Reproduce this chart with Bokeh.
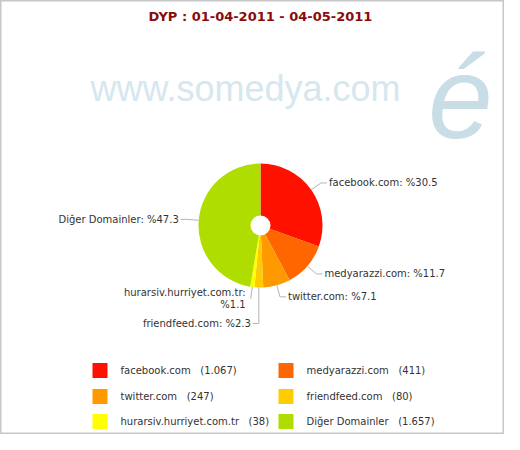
import numpy as np
from bokeh.plotting import figure
from bokeh.models import Range1d, ColumnDataSource
from bokeh.core.properties import value
from bokeh.embed import file_html
from bokeh.resources import INLINE

# ---- data ----
title_text = "DYP : 01-04-2011 - 04-05-2011"
watermark_text = "www.somedya.com"
watermark_mark = "é"
domains = ["facebook.com", "medyarazzi.com", "twitter.com", "friendfeed.com",
           "hurarsiv.hurriyet.com.tr", "Diğer Domainler"]
counts = [1067, 411, 247, 80, 38, 1657]
colors = ["#FF1100", "#FF6600", "#FF9900", "#FFCC00", "#FFFF00", "#B0DD00"]

# ---- layout (pixel-like coordinates, origin top-left) ----
W, H = 504, 434
def Y(yr):
    return H - yr

FONT = "DejaVu Sans"
p = figure(width=W, height=H, output_backend="svg", toolbar_location=None,
           x_range=Range1d(0, W), y_range=Range1d(0, H),
           x_axis_type=None, y_axis_type=None, min_border=0,
           background_fill_color="white", border_fill_color="white")
p.grid.visible = False
p.outline_line_color = "#C8C8C8"
p.outline_line_width = 2

# watermark
p.text(x=[90], y=[Y(88)], text=[watermark_text], text_font=value("Liberation Sans"),
       text_font_size="36px", text_color="#D6E7EF", text_align="left",
       text_baseline="alphabetic")
p.text(x=[460], y=[Y(97)], text=[watermark_mark], text_font=value("Liberation Sans"),
       text_font_style="italic", text_font_size="116px", text_color="#C9DDE7",
       text_align="center", text_baseline="middle")

# title
p.text(x=[260], y=[Y(16)], text=[title_text], text_font=value(FONT),
       text_font_style="bold", text_font_size="13px", text_color="#8B0A0A",
       text_align="center", text_baseline="middle")

# pie
cx, cy, r = 260, Y(225), 62
vals = np.array(counts, dtype=float)
total = vals.sum()
frac = vals / total
cum_end = np.cumsum(frac)
cum_start = cum_end - frac
start = np.pi / 2 - 2 * np.pi * cum_end
end = np.pi / 2 - 2 * np.pi * cum_start
p.wedge(x=cx, y=cy, radius=r, start_angle=start, end_angle=end,
        direction="anticlock", fill_color=colors, line_color=None)
p.scatter(x=[cx], y=[cy], size=20, marker="circle", fill_color="white", line_color=None)

# labels
label_dy = [0, 0, 0, -24, 0, 0]
mid = np.pi / 2 - 2 * np.pi * (cum_start + frac / 2)
xs, ys = [], []
tx, ty, tt, ta = [], [], [], []
for i, name in enumerate(domains):
    c, s = np.cos(mid[i]), np.sin(mid[i])
    ex, ey = cx + r * c, cy + r * s
    bx, by = cx + (r + 12) * c, cy + (r + 12) * s + label_dy[i]
    side = 1 if c >= 0 else -1
    if label_dy[i] != 0:
        bx = ex
    fx = bx + side * 6
    xs.append([ex, bx, fx])
    ys.append([ey, by, by])
    pct = f"%{frac[i] * 100:.1f}"
    align = "left" if side > 0 else "right"
    if len(name) > 20:
        lines = [name + ":", pct]
        fx = bx - 3
        xs[-1] = [ex, bx]
        ys[-1] = [ey, by]
    else:
        lines = [f"{name}: {pct}"]
    n = len(lines)
    for k, ln in enumerate(lines):
        tx.append(fx + side * 2)
        ty.append(by + (n - 1) * 6 - k * 12)
        tt.append(ln)
        ta.append(align)

p.multi_line(xs=xs, ys=ys, line_color="#B4B4B4", line_width=1)
p.text(source=ColumnDataSource(dict(x=tx, y=ty, text=tt, align=ta)),
       x="x", y="y", text="text", text_align="align", text_baseline="middle",
       text_font=value(FONT), text_font_size="10px", text_color="#333333")

# legend
col_x = [92, 278]
row_y = [370, 396, 421]
sx, sy, lx, ly, lt = [], [], [], [], []
for i, name in enumerate(domains):
    col, row = i % 2, i // 2
    sx.append(col_x[col] + 7.5)
    sy.append(Y(row_y[row]))
    lx.append(col_x[col] + 28)
    ly.append(Y(row_y[row]))
    lt.append(f"{name}\u00a0\u00a0\u00a0({counts[i]:,})".replace(",", "."))
p.rect(x=sx, y=sy, width=15, height=15, fill_color=colors, line_color=None)
p.text(x=lx, y=ly, text=lt, text_font=value(FONT), text_font_size="10px",
       text_color="#333333", text_align="left", text_baseline="middle")

open("out.html", "w").write(file_html(p, INLINE))
